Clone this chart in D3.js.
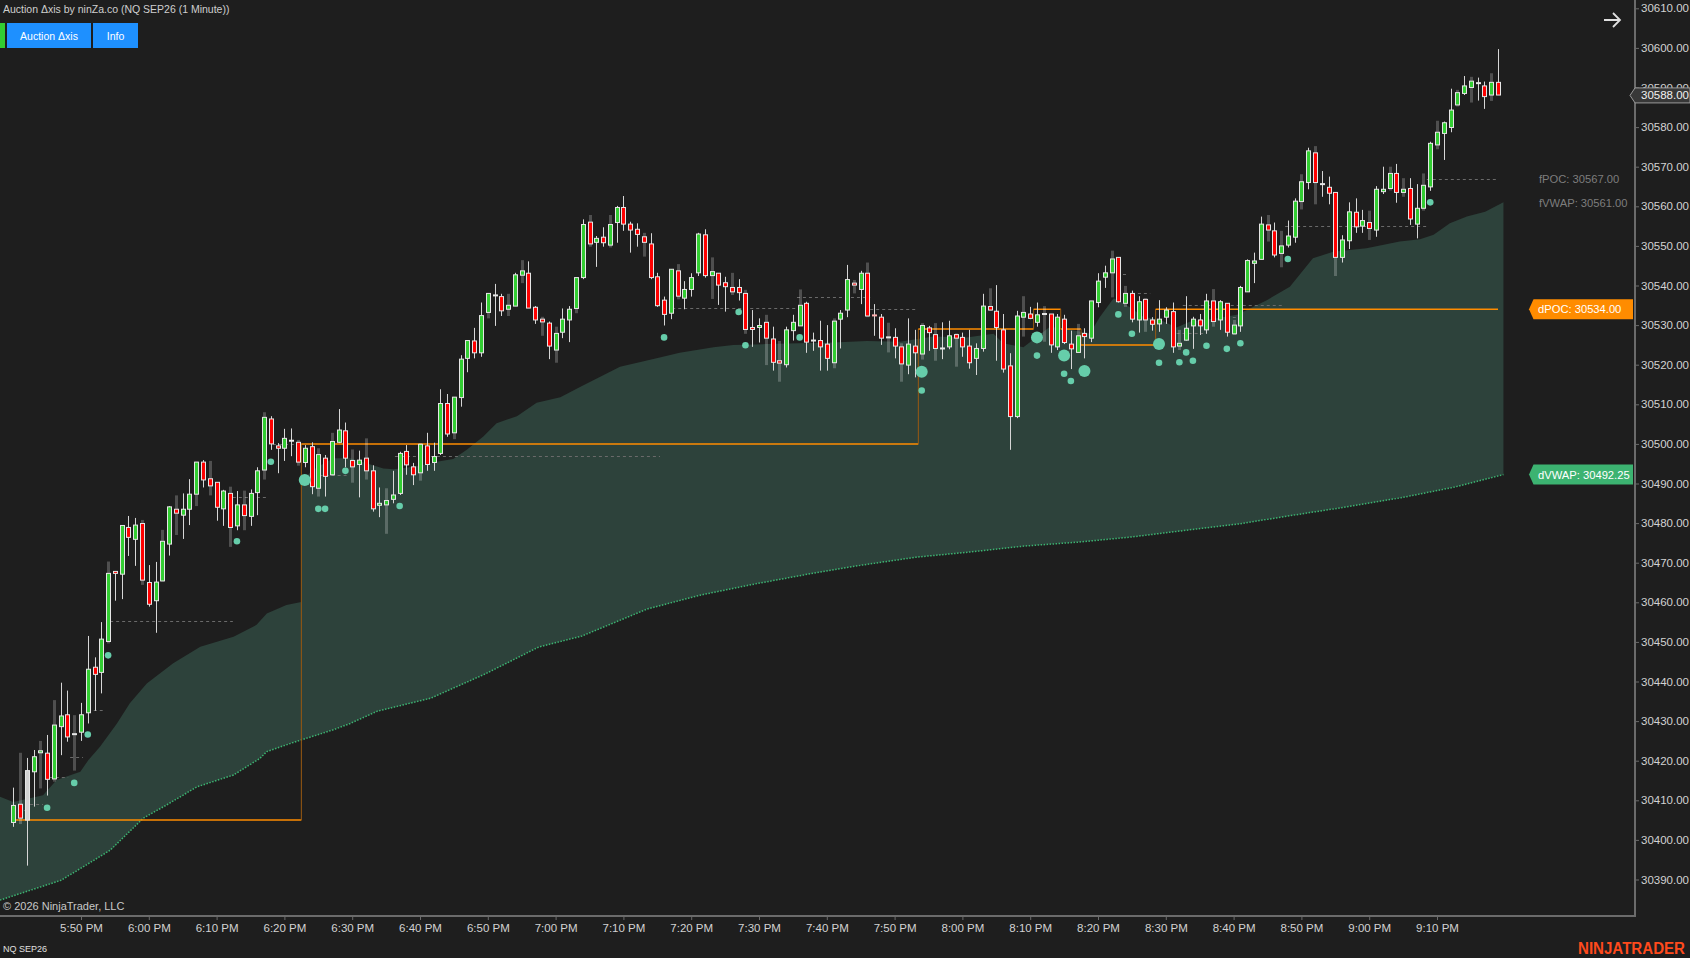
<!DOCTYPE html>
<html><head><meta charset="utf-8">
<script src="https://cdn.jsdelivr.net/npm/d3@7"></script>
<style>html,body{margin:0;padding:0;background:#1e1e1e;overflow:hidden}svg text{font-family:"Liberation Sans",Arial,sans-serif}</style>
</head><body>
<svg id="c" width="1690" height="958"></svg>
<script>
// ---------- DATA ----------
const timeLabels = ["5:50 PM","6:00 PM","6:10 PM","6:20 PM","6:30 PM","6:40 PM","6:50 PM","7:00 PM","7:10 PM","7:20 PM","7:30 PM","7:40 PM","7:50 PM","8:00 PM","8:10 PM","8:20 PM","8:30 PM","8:40 PM","8:50 PM","9:00 PM","9:10 PM"];
const timeTickBars = [10,20,30,40,50,60,70,80,90,100,110,120,130,140,150,160,170,180,190,200,210];
const priceTicks = [30390,30400,30410,30420,30430,30440,30450,30460,30470,30480,30490,30500,30510,30520,30530,30540,30550,30560,30570,30580,30590,30600,30610];

const opens = [30404.4,30409,30405,30417.2,30422,30421.9,30415.4,30428.6,30431.6,30426.7,
30427.2,30432.1,30443.6,30442.3,30450.1,30467.8,30467.1,30478.9,30475.9,30479.9,
30465,30460.4,30465.4,30474.7,30483.5,30482,30483.5,30487.3,30495.4,30491.2,
30490.3,30483.6,30487.5,30479.3,30484.6,30481.7,30487.7,30493.4,30506.3,30499.5,
30498.9,30500.8,30500.4,30495.3,30499.3,30488.8,30496.4,30492.2,30500.4,30503.3,
30495.8,30494.8,30496.4,30493.2,30484.5,30484.6,30486,30487.5,30498.1,30494.2,
30492.7,30499.5,30495.3,30497.6,30510.2,30502.8,30511.7,30521.6,30526,30523,
30533.2,30537.5,30537.2,30534,30534.8,30542.6,30543.1,30534.5,30531.5,30530.5,
30523.7,30528.2,30531.3,30534.2,30542,30556,30550.9,30552.2,30550.2,30555.9,
30559.7,30555.5,30554.2,30552.3,30550.5,30542.2,30536.3,30533,30543.7,30536.8,
30539,30543.2,30552.8,30542.5,30543.1,30540.7,30539.5,30539.5,30538,30529.4,
30529.4,30530.7,30526.5,30521,30520,30528.6,30529.8,30535.5,30526.1,30526.1,
30525.2,30520.5,30531.5,30533.8,30540.6,30539,30543.1,30532.6,30532,30526.9,
30526.9,30524.5,30519.9,30524.7,30522.7,30529.3,30527.6,30524.1,30524.5,30527.6,
30526.9,30524.7,30521.6,30524.1,30534.7,30533.5,30528.8,30519.7,30506.9,30532,
30532.8,30530.7,30532.8,30532.8,30524.5,30531.5,30525.2,30523.1,30527.9,30526.7,
30535.7,30542.1,30543.2,30547.1,30535.5,30538,30531.3,30536.5,30531.3,30530.3,
30532,30533.4,30524.7,30526.2,30529.8,30531.3,30528.8,30536.1,30531.3,30535.5,
30527.8,30529.8,30538.4,30545.6,30546.6,30555.3,30553.8,30548.1,30550.2,30552.2,
30561.2,30566,30573.5,30565.6,30564.8,30563.5,30547.1,30551.3,30558.5,30555,
30555.9,30554,30563.7,30564.5,30568.3,30563.5,30564.5,30555.5,30559.5,30564.9,
30575.5,30578.4,30579.9,30585.6,30588.5,30590,30591.1,30590.4,30588.1,30591.3];
const highs = [30413.2,30422,30420.7,30422.7,30425,30426.5,30435.3,30439.7,30437.7,30431.5,
30434.6,30451.5,30446.1,30455,30470.3,30467.8,30479.4,30481.8,30481.3,30480.8,
30469.4,30470.2,30478.3,30484.3,30487,30487.5,30491.1,30495.5,30495.9,30495.7,
30490.3,30488.4,30489.2,30488.1,30488.2,30488.5,30494.1,30508,30507,30500.2,
30503.8,30503.9,30501,30499.7,30500.4,30498.9,30497.2,30502.8,30508.8,30505.4,
30498.6,30498.3,30501.4,30494.6,30489,30488.8,30493.2,30498,30499.7,30495.2,
30500.2,30502.8,30500.3,30513.8,30512.6,30511.9,30522.4,30526.1,30529.3,30535.7,
30538,30540.4,30537.9,30537.9,30543.2,30546.4,30546.1,30534.8,30532.1,30530.9,
30529.6,30534.2,30534.8,30542,30556.7,30557.8,30552.5,30554.7,30557.8,30560.1,
30562.6,30556.1,30555.7,30553.3,30553.2,30543.2,30537.2,30544.1,30545.4,30541.1,
30543.1,30553.3,30554.2,30547.1,30543.1,30542.2,30543.2,30541.6,30538.9,30533.8,
30531.7,30532.6,30529.6,30526,30529.6,30532.6,30539,30535.9,30528.1,30531.1,
30530,30531.7,30533.8,30545.2,30541.4,30543.7,30545.8,30535.3,30532.8,30530.6,
30529.2,30525.4,30531.7,30528.8,30530.5,30529.8,30530.5,30530.7,30531.1,30527.9,
30528.1,30528.8,30525.4,30537.9,30539.3,30540.1,30532.8,30522.9,30533.6,30537.3,
30534.6,30535.7,30534.8,30532.8,30532.8,30532.6,30528.6,30530.3,30529.2,30536.1,
30543.1,30545,30548.8,30547.1,30539.9,30538.7,30537.3,30536.8,30532,30536.3,
30534.5,30535.7,30528.8,30537.3,30532.1,30532.8,30537.9,30539.1,30536.3,30535.5,
30531.3,30539.9,30546.6,30548.3,30557.4,30557.8,30555.9,30553.8,30556.4,30562,
30568.1,30574.8,30575.2,30568.9,30567.5,30563.5,30552.7,30561,30562,30559.1,
30558.9,30565.1,30570,30570,30570.7,30567.1,30567.1,30565.6,30568.3,30576.3,
30581.6,30581.4,30589.7,30589.4,30592.9,30592.7,30592.5,30591.5,30593.6,30599.7];
const lows = [30403.3,30404,30393.5,30408.4,30413,30411.2,30414.7,30421.4,30424.8,30417.5,
30425,30429.4,30432.6,30437,30449.6,30460.4,30460.8,30471.7,30469.2,30464.4,
30458.9,30452.3,30465.2,30471.8,30477,30476,30479.5,30484.3,30489,30487,
30480.6,30479.3,30474,30478.2,30478.2,30479.3,30482,30491,30498.5,30492.6,
30495.7,30496.9,30494.5,30494.1,30487.3,30486.7,30486.7,30492,30500.2,30494.1,
30490.2,30486.5,30491,30482.9,30481.5,30477.3,30485,30487.1,30492.2,30489.6,
30490.7,30493.2,30493.2,30497.2,30501.8,30501.2,30509.4,30518.1,30521.6,30522,
30531.7,30529.8,30532.3,30532.3,30534.8,30540.6,30534.3,30530.3,30527.3,30521.4,
30520.5,30526.7,30525.7,30533,30541.6,30549.8,30544.7,30549.8,30549.6,30550.8,
30553.8,30548.3,30549.8,30547.3,30541.6,30534.6,30529.9,30531.5,30536.5,30534,
30537.2,30542.4,30542,30536.6,30535.1,30533.4,30537.6,30536.2,30527.8,30524.5,
30525.6,30519.9,30518.5,30515.7,30519.3,30526.1,30529.8,30523,30523.5,30518.5,
30518.5,30519.1,30524.1,30532,30538,30535.3,30532,30527.3,30525,30523.1,
30521.6,30515.7,30517.6,30516.8,30521.3,30523.5,30521,30521.4,30523.9,30519.5,
30522,30519,30517.4,30523.3,30533.6,30521,30518,30498.5,30506.5,30527.1,
30531.5,30529.6,30525.8,30523,30523.7,30525.2,30518.9,30523.1,30521.6,30525.7,
30534.5,30539.4,30537,30535.7,30534.6,30530.7,30528.1,30528.3,30528.6,30528.3,
30530.3,30523,30523.7,30526.1,30524,30527.5,30527.8,30529.6,30528.8,30527.1,
30527.5,30528.3,30538.4,30540.6,30546.6,30551.1,30547.1,30544.6,30549.6,30550.8,
30559.2,30564.3,30560.5,30562.4,30560.5,30542.4,30545.8,30549.2,30553.3,30553.3,
30551.5,30552.3,30563.1,30564,30560.9,30562.4,30555.3,30551.9,30558.9,30563.9,
30574.4,30571.7,30578.7,30585.2,30588.1,30586.2,30586.7,30584.6,30586.6,30588.1];
const closes = [30408.7,30405.5,30417.5,30421,30422.5,30415.3,30429,30431.3,30426,30426.7,
30431.6,30443.1,30441.8,30450.7,30467.3,30467.3,30479.4,30476.4,30479.5,30465.6,
30459.5,30465.1,30475.4,30484.1,30482.5,30483.5,30487.3,30495.4,30490.9,30489.4,
30484,30488.1,30478.9,30484.6,30481.9,30487.5,30493.2,30506.7,30500,30498.9,
30501.4,30500.8,30495.4,30498.9,30489.2,30497.3,30491.8,30500.6,30503.5,30496.4,
30494.2,30495.9,30493.2,30483.6,30485,30485.7,30487.1,30497.6,30494.7,30492.2,
30499.9,30494.8,30496.8,30510.2,30502.5,30511.8,30521.4,30526.1,30523,30532.4,
30538,30537.5,30533.6,30535,30542.7,30543.7,30534.3,30531.3,30530.8,30524.7,
30527.9,30531.5,30534,30542,30555.4,30550.5,30551.9,30550.8,30555.4,30559.7,
30555.5,30554,30552.9,30550.9,30542,30534.9,30532.7,30544.1,30537.3,30539,
30542,30553,30542.5,30543.5,30540.1,30539.7,30538.4,30538.2,30528.9,30528.9,
30529.9,30526.7,30520.6,30520.4,30528.8,30530.7,30535,30525.7,30526.1,30524.5,
30521.6,30531,30533,30541.5,30540.1,30543.1,30532.3,30532.3,30526.7,30526.9,
30524.7,30520.2,30525.2,30523,30529.9,30528.1,30524.1,30524.1,30527.3,30526.7,
30524.5,30520.5,30524.1,30534.8,30533.8,30529.4,30518.9,30506.9,30532.3,30533.2,
30531.7,30532.6,30532.8,30525,30532,30525.6,30524,30527.3,30527.1,30536.1,
30541.1,30543.2,30546.7,30535.9,30538,30531.5,30535.9,30531.3,30530.2,30531.5,
30533.8,30524.5,30525.4,30529.2,30531.5,30529.8,30536.1,30530.9,30535.9,30528.2,
30530,30539.5,30546.3,30546.2,30555.5,30554,30547.7,30550,30552.5,30561.3,
30566.2,30574,30566,30565.6,30563.3,30547.1,30551.5,30558.6,30554.8,30556.4,
30554.4,30564.3,30564.3,30568.3,30563.5,30564.3,30556.8,30559.5,30565.3,30575.9,
30578.7,30581.1,30584.3,30588.7,30590.4,30591.6,30591.1,30587.7,30591.3,30588.1];
// bars whose high-low range is drawn as a dim wide shadow
const dimWickBars = [1,4,6,9,14,19,22,24,27,29,32,34,37,42,45,47,50,52,55,60,65,70,73,75,78,80,83,85,88,93,98,103,106,108,111,113,116,121,124,126,129,131,134,136,139,144,149,152,157,162,164,167,172,177,180,185,187,190,192,195,200,203,205,208,210,213,215,218];
const neutralBars = [2];

// teal volume dots
const dotBar = [5,9,11,14,33,38,43,45,46,49,57,96,107,108,116,134,134,151,151,155,155,156,158,163,165,169,169,172,173,174,176,179,181,188,209];
const dotPrice = [30408.1,30414.4,30426.6,30446.6,30475.4,30495.5,30490.9,30483.6,30483.6,30493.2,30484.3,30526.9,30533.3,30524.9,30526.9,30518.2,30513.5,30526.9,30522.3,30522.3,30517.7,30515.9,30518.4,30532.7,30527.8,30525.2,30520.5,30520.6,30523.1,30521,30524.8,30524,30525.4,30546.7,30561];
const dotLevel = [1,1,1,1,1,1,2,1,1,1,1,1,1,1,1,2,1,2,1,2,1,1,2,1,1,2,1,1,1,1,1,1,1,1,1];

// developing POC (orange steps)
const pocFrom = [0,42.5,133.5,150.5,154.5,157.5,168.5];
const pocTo = [42.5,133.5,150.5,154.5,157.5,168.5,219];
const pocPrice = [30405,30500,30529,30534,30529,30525,30534];

// gray dashed POC levels
const dashFrom = [0.7,2.5,5.4,8.4,11,14.3,32.4,38.3,45.2,56.3,97.2,115.6,126.4,162.8,165,171.6,172.5,179,187.6,208.5];
const dashTo = [2.2,4.4,8.1,10.3,13.2,32.4,37.4,42.3,49.2,95.4,115.6,126.4,133.3,164.4,167.7,175.5,187.3,180.5,208.5,219];
const dashPrice = [30407.6,30409,30415.8,30420.9,30432.8,30455.4,30486.5,30499.9,30492.1,30496.9,30534.3,30537,30534,30542.8,30538,30527.9,30535,30532,30555,30567];

// daily VWAP (lower edge of the band)
const dvwapBar = [-1.95,7.05,10.8,14.3,19.2,22.6,27.1,32.5,36.4,37.4,41.3,47.2,49.7,53.7,61.6,69.6,77.5,83.9,93.5,101.3,109.3,117.2,125.2,133.2,141.1,149.1,157.1,165,173,180.8,188.8,196.7,204.7,212.6,219.8];
const dvwapVal = [30384.8,30389.8,30393.7,30397.4,30405.5,30408.8,30413.4,30416.4,30420.6,30422.3,30424.6,30427.8,30429.4,30432.5,30435.8,30441.9,30448.7,30451.5,30458.3,30461.8,30464.6,30467.1,30469.4,30471.4,30472.7,30474.2,30475.2,30476.5,30478.2,30479.8,30482,30484.1,30486.4,30489.1,30492.25];
// focused VWAP before / after re-anchor (upper edge of the band)
const fvwapABar = [-1.95,0,4.4,6.4,9.9,11.1,12.8,15.3,17.2,19.7,23.6,27.6,32.5,35.9,37.4,40.3,42.5];
const fvwapAVal = [30410.9,30409.6,30411.3,30415.1,30417.2,30420.2,30423.5,30429.4,30434.5,30439.5,30444.6,30448.8,30451.3,30454.3,30457.2,30459.3,30460.1];
const fvwapBBar = [42.5,44.8,47.2,49.7,52.1,54.6,56.1,58.5,60.5,62.5,64.9,66.9,69.3,71.3,74.3,77.2,80.7,83.6,89.5,94.9,98.3,103.3,106.2,111.1,116,121,125.9,130.8,135.7,140.6,144.6,146,149,152.9,155.9,158.8,160.3,162.3,164.2,166.7,169.2,171.6,173.6,177.5,180.5,184.9,188.3,191.7,194.7,199.6,204.5,207.5,209.5,211.9,214.4,217.1,219.8];
const fvwapBVal = [30490.9,30494.1,30496.4,30496.4,30495.1,30493.8,30493.6,30494.1,30494.7,30495.5,30496.2,30498.5,30501.8,30505.2,30507,30510.4,30511.8,30514.4,30519.5,30521.6,30523,30524.4,30525,30525.2,30525.4,30525.6,30526,30525.8,30527.1,30526.9,30527.8,30525.4,30524.4,30529.6,30528.8,30527.9,30532.1,30536.8,30535.1,30532.1,30531.3,30529.4,30530.9,30531.7,30532.6,30536.3,30539.7,30546.9,30548.5,30549.4,30551.1,30551.7,30552.8,30555.7,30557.4,30558.6,30561];

const lastPrice = 30588.00, dPOC = 30534.00, dVWAP = 30492.25, fPOC = 30567.00, fVWAP = 30561.00;

// ---------- DRAW ----------
const W = 1690, H = 958, axisX = 1635, axisY = 916;
const svg = d3.select("#c");
const x = d3.scaleLinear().domain([0, 219]).range([13.2, 13.2 + 219 * 6.78]);
const y = d3.scaleLinear().domain([30390, 30610]).range([879.5, 8.3]);
const fmt = d3.format(".2f");

svg.append("rect").attr("width", W).attr("height", H).attr("fill", "#1e1e1e");
const defs = svg.append("defs");
defs.append("clipPath").attr("id", "plot").append("rect").attr("x", 0).attr("y", 0).attr("width", axisX).attr("height", axisY);
// clip: region above the dVWAP line
const dv = dvwapBar.map((b, i) => [x(b), y(dvwapVal[i])]);
const abovePts = [[-10, -10], [-10, dv[0][1]], ...dv, [W, dv[dv.length - 1][1]], [W, -10]];
defs.append("clipPath").attr("id", "above").append("path").attr("d", "M" + abovePts.map(p => p.join(",")).join("L") + "Z");

const g = svg.append("g").attr("clip-path", "url(#plot)");
const band = g.append("g").attr("clip-path", "url(#above)");
function bandPath(bars, vals) {
  const pts = bars.map((b, i) => [x(b), y(vals[i])]);
  const first = pts[0], last = pts[pts.length - 1];
  return "M" + pts.map(p => p.join(",")).join("L") + `L${last[0]},${axisY}L${first[0]},${axisY}Z`;
}
band.append("path").attr("d", bandPath(fvwapABar, fvwapAVal)).attr("fill", "#2d423b");
band.append("path").attr("d", bandPath(fvwapBBar, fvwapBVal)).attr("fill", "#2d423b");

// dVWAP dotted line
g.append("path").attr("d", d3.line()(dv)).attr("fill", "none").attr("stroke", "#3cb371").attr("stroke-width", 1.5).attr("stroke-dasharray", "1.5,1.5");

// gray dashed levels
g.selectAll("line.dash").data(dashPrice).join("line")
  .attr("x1", (d, i) => x(dashFrom[i])).attr("x2", (d, i) => x(dashTo[i]))
  .attr("y1", d => Math.round(y(d)) + 0.5).attr("y2", d => Math.round(y(d)) + 0.5)
  .attr("stroke", "#6a6a6a").attr("stroke-width", 1).attr("stroke-dasharray", "3,3");

// developing POC steps
pocPrice.forEach((p, i) => {
  if (i > 0) {
    g.append("line").attr("x1", x(pocFrom[i])).attr("x2", x(pocFrom[i]))
      .attr("y1", y(pocPrice[i - 1])).attr("y2", y(p))
      .attr("stroke", "#9a5a12").attr("stroke-width", 1);
  }
  g.append("line").attr("x1", x(pocFrom[i])).attr("x2", x(pocTo[i]))
    .attr("y1", y(p)).attr("y2", y(p)).attr("stroke", "#ff8c00").attr("stroke-width", 1.5);
});

// candles
const bars = d3.range(opens.length);
const dimSet = new Set(dimWickBars), neutralSet = new Set(neutralBars);
const cg = g.append("g");
bars.forEach(i => {
  const cx = Math.round(x(i)) + 0.5;
  if (dimSet.has(i)) {
    cg.append("line").attr("x1", cx).attr("x2", cx).attr("y1", y(highs[i])).attr("y2", y(lows[i]))
      .attr("stroke", "rgba(255,255,255,0.22)").attr("stroke-width", 3);
  } else {
    cg.append("line").attr("x1", cx).attr("x2", cx).attr("y1", y(highs[i])).attr("y2", y(lows[i]))
      .attr("stroke", "#d6d6d6").attr("stroke-width", 1);
  }
});
bars.forEach(i => {
  const o = opens[i], c = closes[i];
  const cx = Math.round(x(i));
  const top = y(Math.max(o, c)), bot = y(Math.min(o, c));
  if (bot - top < 1.2) {
    cg.append("rect").attr("x", cx - 2).attr("y", (top + bot) / 2 - 1).attr("width", 5).attr("height", 2)
      .attr("fill", c > o ? "#9fe39f" : (c < o ? "#ffb0b0" : "#e8e8e8"));
    return;
  }
  const col = neutralSet.has(i) ? "#d3d3d3" : (c >= o ? "#32cd32" : "#ff0000");
  cg.append("rect").attr("x", cx - 1.5).attr("y", top).attr("width", 4).attr("height", bot - top)
    .attr("fill", col).attr("stroke", "#e6e6e6").attr("stroke-width", 1);
});

// dots
const r = d3.scaleOrdinal().domain([1, 2]).range([3.3, 6]);
g.selectAll("circle.dot").data(dotPrice).join("circle")
  .attr("cx", (d, i) => x(dotBar[i])).attr("cy", d => y(d)).attr("r", (d, i) => r(dotLevel[i]))
  .attr("fill", "#66cdaa");

// ---------- AXES ----------
const axisCol = "#6b6b6b", textCol = "#d2d2d2";
const ya = svg.append("g").attr("transform", `translate(${axisX},0)`)
  .call(d3.axisRight(y).tickValues(priceTicks).tickFormat(fmt).tickSize(4).tickPadding(2));
ya.select(".domain").remove();
ya.selectAll(".tick line").attr("stroke", axisCol);
ya.selectAll(".tick text").attr("fill", textCol).attr("font-size", 11.5).attr("font-family", "Liberation Sans, Arial");
svg.append("line").attr("x1", axisX).attr("x2", axisX).attr("y1", 0).attr("y2", axisY + 1).attr("stroke", axisCol).attr("stroke-width", 2);

const xa = svg.append("g").attr("transform", `translate(0,${axisY})`)
  .call(d3.axisBottom(x).tickValues(timeTickBars).tickFormat((d, i) => timeLabels[i]).tickSize(4).tickPadding(4));
xa.select(".domain").remove();
xa.selectAll(".tick line").attr("stroke", axisCol);
xa.selectAll(".tick text").attr("fill", textCol).attr("font-size", 11.5).attr("font-family", "Liberation Sans, Arial");
svg.append("line").attr("x1", 0).attr("x2", axisX + 1).attr("y1", axisY).attr("y2", axisY).attr("stroke", axisCol).attr("stroke-width", 2);

// ---------- LABELS ----------
// last price marker
const lpY = y(lastPrice);
svg.append("path").attr("d", `M1630,${lpY}L1635,${lpY - 7.5}L1690,${lpY - 7.5}L1690,${lpY + 7.5}L1635,${lpY + 7.5}Z`)
  .attr("fill", "#383838").attr("stroke", "#9a9a9a").attr("stroke-width", 1);
svg.append("text").attr("x", 1641).attr("y", lpY + 4).attr("fill", "#f0f0f0").attr("font-size", 11.5).text(fmt(lastPrice));

function tagLabel(price, txt, fill) {
  const cy = y(price);
  svg.append("path").attr("d", `M1529,${cy}L1533.5,${cy - 10}L1633,${cy - 10}L1633,${cy + 10}L1533.5,${cy + 10}Z`).attr("fill", fill);
  svg.append("text").attr("x", 1538).attr("y", cy + 4.2).attr("fill", "#ffffff").attr("font-size", 11.2).text(txt);
}
tagLabel(dPOC, "dPOC: " + fmt(dPOC), "#ff8c00");
tagLabel(dVWAP, "dVWAP: " + fmt(dVWAP), "#3cb371");
svg.append("text").attr("x", 1539).attr("y", y(fPOC) + 4.2).attr("fill", "#7d7d7d").attr("font-size", 11.2).text("fPOC: " + fmt(fPOC));
svg.append("text").attr("x", 1539).attr("y", y(fVWAP) + 4.2).attr("fill", "#7d7d7d").attr("font-size", 11.2).text("fVWAP: " + fmt(fVWAP));

// header
svg.append("text").attr("x", 3).attr("y", 13).attr("fill", "#cfcfcf").attr("font-size", 10.5).text("Auction \u0394xis by ninZa.co (NQ SEP26 (1 Minute))");
svg.append("rect").attr("x", 0).attr("y", 23).attr("width", 5).attr("height", 25).attr("fill", "#32cd32");
svg.append("rect").attr("x", 7).attr("y", 23).attr("width", 84).attr("height", 25).attr("fill", "#1e90ff");
svg.append("rect").attr("x", 93).attr("y", 23).attr("width", 45).attr("height", 25).attr("fill", "#1e90ff");
svg.append("text").attr("x", 49).attr("y", 39.5).attr("text-anchor", "middle").attr("fill", "#ffffff").attr("font-size", 10.5).text("Auction \u0394xis");
svg.append("text").attr("x", 115.5).attr("y", 39.5).attr("text-anchor", "middle").attr("fill", "#ffffff").attr("font-size", 10.5).text("Info");

// arrow
svg.append("path").attr("d", "M1604,20L1620,20M1613,13L1620,20L1613,27").attr("fill", "none").attr("stroke", "#e0e0e0").attr("stroke-width", 1.8);

// footer
svg.append("text").attr("x", 3).attr("y", 910).attr("fill", "#c8c8c8").attr("font-size", 11).text("\u00a9 2026 NinjaTrader, LLC");
svg.append("text").attr("x", 3).attr("y", 952).attr("fill", "#e0e0e0").attr("font-size", 9).text("NQ SEP26");
svg.append("text").attr("x", 1578).attr("y", 954).attr("fill", "#ff4a1c").attr("font-size", 16).attr("font-weight", "bold")
  .attr("textLength", 107).attr("lengthAdjust", "spacingAndGlyphs").text("NINJATRADER");
</script>
</body></html>
